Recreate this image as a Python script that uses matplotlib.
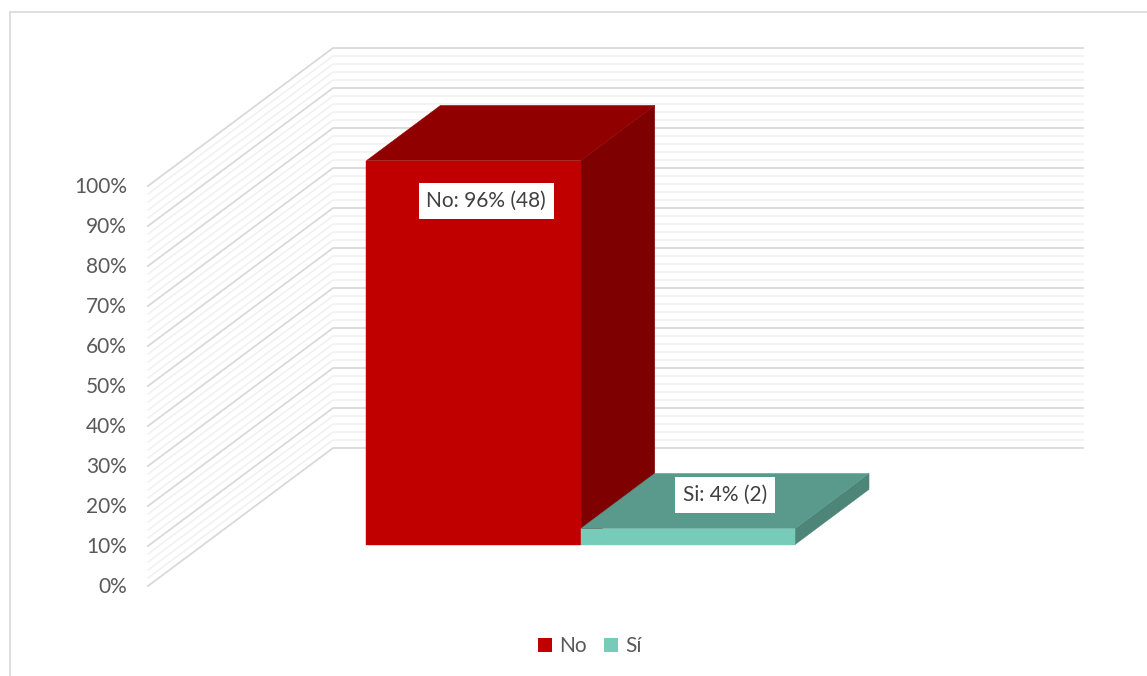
import matplotlib.pyplot as plt
import matplotlib.patches as mpatches
from matplotlib.patches import Polygon
import numpy as np

# datos de la encuesta
series = ['No', 'Sí']
label_names = ['No', 'Si']
porcentajes = [96, 4]
conteos = [48, 2]
ticks = np.arange(0, 101, 10)
ticks_menores = np.arange(0, 101, 2)

col_frente = ['#C00000', '#77CBB9']
col_arriba = ['#900000', '#5A9A8C']
col_lado = ['#7F0000', '#4E8579']

# proyeccion oblicua: x en unidades de categoria, y en %, z profundidad 0..1
DX = 185 / 750
DY = 138 / 4


def proy(x, y, z):
    return (x + z * DX, y + z * DY)


plt.rcParams['font.family'] = ['Lato', 'DejaVu Sans']

fig = plt.figure(figsize=(11.47, 6.76), dpi=100)
ax = fig.add_axes([0, 0, 1, 1])
ax.set_xlim(-148 / 750, (1147 - 148) / 750)
ax.set_ylim((586 - 676) / 4, 586 / 4)
ax.axis('off')

# borde del area del grafico
fig.patches.append(mpatches.Rectangle((10 / 1147, -0.01), 1.0, 1 - 12 / 676 + 0.01,
                                      transform=fig.transFigure, fill=False,
                                      edgecolor='#D9D9D9', linewidth=1.2))

# paredes: lineas de division en la pared lateral y la del fondo
for p in ticks_menores:
    mayor = p % 10 == 0
    c = '#D9D9D9' if mayor else '#F0F0F0'
    pts = [proy(0, p, 0), proy(0, p, 1), proy(1, p, 1)]
    ax.plot([q[0] for q in pts], [q[1] for q in pts], color=c,
            lw=1.3 if mayor else 1.1, solid_joinstyle='miter', zorder=1)

# etiquetas del eje vertical
for t in ticks:
    ax.text(-21 / 750, t - 0.3, f'{t}%', ha='right', va='center', fontsize=15,
            color='#595959')

# barras 3D: dos series en una sola categoria, ancho de separacion 150%
n = len(series)
w = 1 / (n + 1.5)
x_ini = 0.75 * w + 0.003
z0, z1 = 0.3, 0.7
for i, v in enumerate(porcentajes):
    xa, xb = x_ini + i * w, x_ini + (i + 1) * w
    lado = [proy(xb, 0, z0), proy(xb, 0, z1), proy(xb, v, z1), proy(xb, v, z0)]
    arriba = [proy(xa, v, z0), proy(xb, v, z0), proy(xb, v, z1), proy(xa, v, z1)]
    frente = [proy(xa, 0, z0), proy(xb, 0, z0), proy(xb, v, z0), proy(xa, v, z0)]
    for poly, c in [(lado, col_lado[i]), (arriba, col_arriba[i]), (frente, col_frente[i])]:
        ax.add_patch(Polygon(poly, closed=True, facecolor=c, edgecolor=c,
                             lw=0.3, zorder=3 + i))

    # etiqueta de datos
    texto = f'{label_names[i]}: {v}% ({conteos[i]})'
    if v > 20:
        px, py = proy((xa + xb) / 2 + 0.017, v - 10, z0)
    else:
        px, py = proy((xa + xb) / 2, v, 0.5)
        py += 1.5
    ax.text(px, py, texto, ha='center', va='center', fontsize=15,
            color='#404040', zorder=10,
            bbox=dict(boxstyle='square,pad=0.38', facecolor='white',
                      edgecolor='none'))

# leyenda
handles = [mpatches.Patch(facecolor=col_frente[i], edgecolor='none', label=s)
           for i, s in enumerate(series)]
fig.legend(handles=handles, loc='center', bbox_to_anchor=(590 / 1147, 1 - 646 / 676),
           ncol=2, frameon=False, fontsize=15, handlelength=0.68,
           handleheight=0.68, handletextpad=0.35, columnspacing=0.8,
           labelcolor='#595959')

fig.savefig('out.png', dpi=100)
